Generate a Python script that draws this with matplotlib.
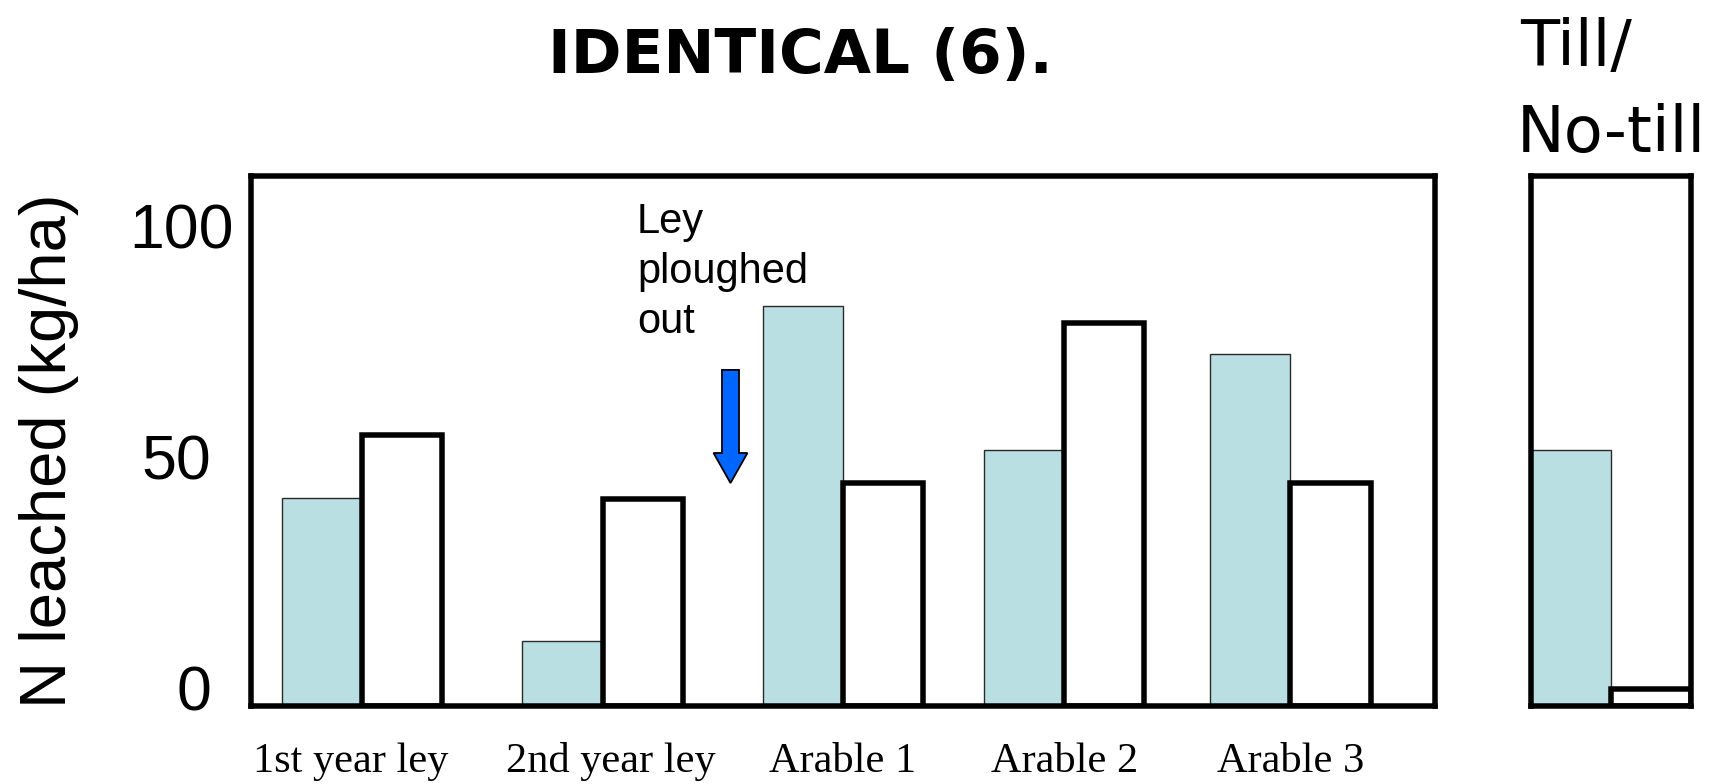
import matplotlib
matplotlib.use("Agg")
import matplotlib.pyplot as plt
import matplotlib.transforms as mtransforms
from matplotlib.patches import FancyArrow

# ---------------- data ----------------
categories = ["1st year ley", "2nd year ley", "Arable 1", "Arable 2", "Arable 3"]
series_a = [45.0, 14.0, 86.7, 55.5, 76.2]   # shaded bars
series_b = [58.6, 44.8, 48.3, 82.9, 48.3]   # open bars
till_a = [55.5]
till_b = [3.7]
ytick_values = [0, 50, 100]
ytick_labels = ["0", "50", "100"]
title_text = "IDENTICAL (6)."
till_lines = ["Till/", "No-till"]
note_lines = ["Ley", "ploughed", "out"]
ylabel_text = "N leached (kg/ha)"

# ---------------- layout ----------------
W, H = 1725, 784
DPI = 100
group_x = [0.0, 1.0, 2.0, 2.92, 3.86]
bw = 0.333
teal = "#B9DFE2"
lw_px = 5.5
lw = lw_px * 72 / DPI

fig = plt.figure(figsize=(W / DPI, H / DPI), dpi=DPI)
fig.patch.set_facecolor("white")


def fx(px):
    return px / W


def fy(py):
    return 1 - py / H


ax = fig.add_axes([fx(251), fy(706), fx(1435) - fx(251), fy(176) - fy(706)])
ax2 = fig.add_axes([fx(1531), fy(706), fx(1691) - fx(1531), fy(176) - fy(706)])

ymax = 114.8
for a in (ax, ax2):
    a.set_ylim(0, ymax)
    for s in a.spines.values():
        s.set_linewidth(lw)
        s.set_color("black")

# main panel bars
ax.bar(group_x, series_a, width=-bw, align="edge", color=teal,
       edgecolor="#2a2a2a", linewidth=1.0, zorder=1)
ax.bar(group_x, series_b, width=bw, align="edge", color="white",
       edgecolor="black", linewidth=lw, zorder=1.5)
ax.set_xlim(-0.4615, 4.461)
ax.set_xticks(group_x)
ax.set_xticklabels(categories, family="Liberation Serif", fontsize=30.5)
ax.tick_params(axis="x", length=0, pad=26)
xoffs_px = [-11, 8, 0, 0, 0]
for lab, dx in zip(ax.get_xticklabels(), xoffs_px):
    lab.set_transform(lab.get_transform() +
                      mtransforms.ScaledTranslation(dx / DPI, 0, fig.dpi_scale_trans))

ax.set_yticks(ytick_values)
ax.set_yticklabels(ytick_labels, family="Liberation Sans", fontsize=45)
ax.tick_params(axis="y", length=0, pad=28.3)
yoffs_px = [0, 0, 22]
for lab, dx in zip(ax.get_yticklabels(), yoffs_px):
    lab.set_transform(lab.get_transform() +
                      mtransforms.ScaledTranslation(dx / DPI, 18.5 / DPI, fig.dpi_scale_trans))

# till panel
ax2.bar([0], till_a, width=-0.5, align="edge", color=teal,
        edgecolor="#2a2a2a", linewidth=1.0, zorder=1)
ax2.bar([0], till_b, width=0.5, align="edge", color="white",
        edgecolor="black", linewidth=lw, zorder=1.5)
ax2.set_xlim(-0.5, 0.5)
ax2.set_xticks([])
ax2.set_yticks([])

# arrow (ley ploughed out)
ax_x = 1.532
arrow = FancyArrow(ax_x, 72.8, 0, -24.5, width=0.0707, head_width=0.141,
                   head_length=6.5, length_includes_head=True,
                   facecolor="#0066FF", edgecolor="black", linewidth=1.3,
                   zorder=3)
ax.add_patch(arrow)

# note text
for line, base in zip(note_lines, [233, 283, 333]):
    fig.text(fx(637), fy(base), line, family="Liberation Sans", fontsize=30,
             ha="left", va="baseline")

# title
fig.text(fx(800), fy(73), title_text, family="DejaVu Sans", fontweight="bold",
         fontsize=44, ha="center", va="baseline")

# till / no-till
fig.text(fx(1520), fy(66), till_lines[0], family="DejaVu Sans", fontsize=46,
         ha="left", va="baseline")
fig.text(fx(1517), fy(152), till_lines[1], family="DejaVu Sans", fontsize=46,
         ha="left", va="baseline")

# y label
fig.text(fx(49), fy(451), ylabel_text, family="Liberation Sans", fontsize=47,
         rotation=90, ha="center", va="center")

fig.savefig("out.png", dpi=DPI)
